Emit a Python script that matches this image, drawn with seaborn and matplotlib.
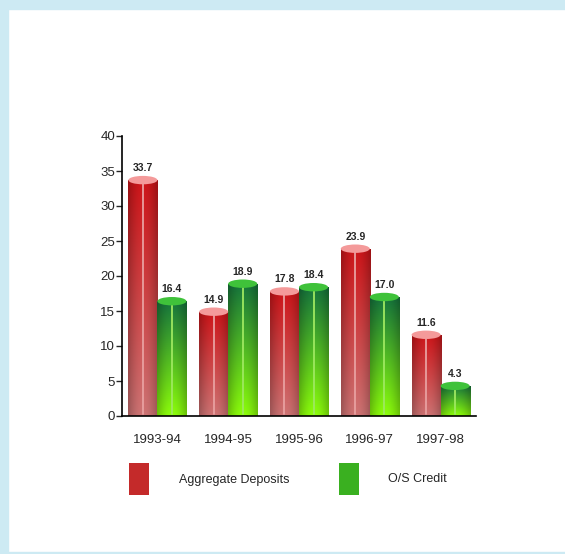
import numpy as np
import pandas as pd
import matplotlib
matplotlib.use("Agg")
import matplotlib.pyplot as plt
from matplotlib.patches import Rectangle, Ellipse
import seaborn as sns

years = ['1993-94', '1994-95', '1995-96', '1996-97', '1997-98']
deposits = [33.7, 14.9, 17.8, 23.9, 11.6]
credit = [16.4, 18.9, 18.4, 17.0, 4.3]
series = ['Aggregate Deposits', 'O/S Credit']

df = pd.DataFrame({
    'year': years * 2,
    'value': deposits + credit,
    'series': [series[0]] * len(years) + [series[1]] * len(years),
})

sns.set_style('white')
plt.rcParams['font.family'] = ['Liberation Sans', 'DejaVu Sans']

# colours: (top, bottom, cap, highlight)
styles = {
    series[0]: ('#c41418', '#c46e6e', '#f49a9a', '#e8a0a0'),
    series[1]: ('#15703a', '#86f20a', '#3fc23a', '#9ee860'),
}

fig = plt.figure(figsize=(5.65, 5.54), dpi=100)
ax = fig.add_axes([122 / 565, 1 - 416 / 554, (476 - 122) / 565, (416 - 136) / 554])

sns.barplot(data=df, x='year', y='value', hue='series', ax=ax, width=0.82,
            palette=[styles[s][0] for s in series], legend=False, saturation=1)


def hexrgb(c):
    return np.array(matplotlib.colors.to_rgb(c))


for cont, name in zip(ax.containers, series):
    top, bot, cap, hl = styles[name]
    for patch, val in zip(cont.patches, cont.datavalues):
        x0, w, h = patch.get_x(), patch.get_width(), patch.get_height()
        t = np.linspace(0, 1, 60)[:, None, None]
        u = np.linspace(0, 1, 40)[None, :, None]
        col = hexrgb(bot) * (1 - t) + hexrgb(top) * t
        shade = 0.8 + 0.25 * np.sin(np.pi * u)
        img = np.clip(col * shade, 0, 1)
        im = ax.imshow(img, extent=[x0, x0 + w, 0, h], origin='lower',
                       aspect='auto', zorder=2)
        im.set_clip_path(patch)
        patch.set_facecolor('none')
        patch.set_edgecolor('none')
        ax.plot([x0 + w / 2, x0 + w / 2], [0.3, h], color=hl, lw=1.3, zorder=3)
        ax.add_patch(Ellipse((x0 + w / 2, h), w, 1.2, facecolor=cap,
                             edgecolor='none', zorder=4))
        ax.text(x0 + w / 2, h + 1.0, f'{val:.1f}', ha='center', va='bottom',
                fontsize=7.5, fontweight='bold', zorder=5)

ax.set_xlim(-0.5, 4.5)
ax.set_ylim(0, 40)
ax.set_yticks(range(0, 41, 5))
ax.set_xlabel('')
ax.set_ylabel('')
ax.tick_params(axis='y', length=4, width=1, labelsize=9.5, pad=1, left=True)
ax.tick_params(axis='x', length=0, labelsize=9.5, pad=13)
sns.despine(ax=ax)
for s in ['left', 'bottom']:
    ax.spines[s].set_color('black')
    ax.spines[s].set_linewidth(1.2)

# legend
handles = [Rectangle((0, 0), 1, 1, edgecolor='none') for s in series]
handles[0].set_facecolor('#c42a2a')
handles[1].set_facecolor('#3ab020')
fig.legend(handles, series, loc='center left', bbox_to_anchor=(118 / 565, 1 - 479 / 554),
           ncol=2, frameon=False, fontsize=9, handlelength=1.6, handleheight=3.5,
           handletextpad=2.4, columnspacing=3.9)

# light blue frame
frame = '#cdeaf3'
fig.patches.append(Rectangle((0, 0), 8 / 565, 1, transform=fig.transFigure, color=frame))
fig.patches.append(Rectangle((0, 1 - 9 / 554), 1, 9 / 554, transform=fig.transFigure, color=frame))
fig.patches.append(Rectangle((0, 0), 1, 2 / 554, transform=fig.transFigure, color=frame))

fig.savefig('out.png', dpi=100)
